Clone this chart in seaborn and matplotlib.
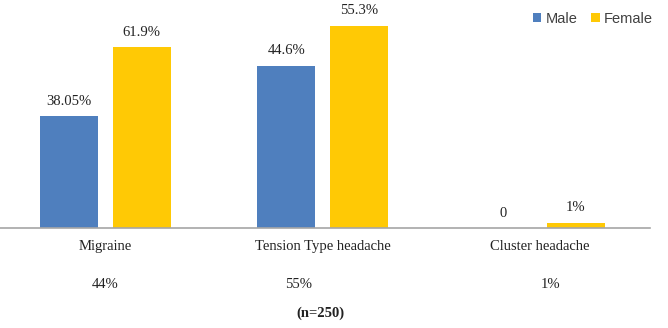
import numpy as np
import pandas as pd
import matplotlib
matplotlib.use("Agg")
import matplotlib.pyplot as plt
import seaborn as sns

# headache type, patients per sex (bar heights) and the percent labels shown
categories = ["Migraine", "Tension Type headache", "Cluster headache"]
male_counts = [42, 61, 0]
female_counts = [68, 76, 2]
male_labels = ["38.05%", "44.6%", "0"]
female_labels = ["61.9%", "55.3%", "1%"]
share_labels = ["44%", "55%", "1%"]
share_offsets = [0.0, -0.11, 0.05]
sample_note = "(n=250)"

df = pd.DataFrame({
    "type": categories * 2,
    "sex": ["Male"] * 3 + ["Female"] * 3,
    "count": male_counts + female_counts,
})

sns.set_theme(style="white")
plt.rcParams["font.family"] = ["Liberation Serif", "DejaVu Serif"]

fig = plt.figure(figsize=(6.68, 3.28), dpi=100)
ax = fig.add_axes([0.0, 0.3049, 650 / 668, 0.6951])

sns.barplot(data=df, x="type", y="count", hue="sex", order=categories,
            hue_order=["Male", "Female"],
            palette={"Male": "#4F7FBE", "Female": "#FFC905"},
            width=0.67, gap=0.21, saturation=1, linewidth=0, ax=ax)

for cont, labs in zip(ax.containers, [male_labels, female_labels]):
    ax.bar_label(cont, labels=labs, padding=6, fontsize=10.5, color="#222222")

ax.set_xlim(-0.486, 2.509)
ax.set_ylim(0, 85.7)
ax.set_xlabel("")
ax.set_ylabel("")
ax.set_yticks([])
ax.tick_params(axis="x", length=0, pad=9, labelsize=10.5, labelcolor="#222222")
for s in ["top", "left", "right"]:
    ax.spines[s].set_visible(False)
ax.spines["bottom"].set_color("#A6A6A6")
ax.spines["bottom"].set_linewidth(1.2)

trans = matplotlib.transforms.blended_transform_factory(ax.transData, fig.transFigure)
for i, (lab, off) in enumerate(zip(share_labels, share_offsets)):
    ax.text(i + off, 1 - 285 / 328, lab, transform=trans, ha="center",
            va="center", fontsize=10.5, color="#222222")
fig.text(320 / 668, 1 - 313 / 328, sample_note, ha="center", va="center",
         fontsize=10.5, fontweight="bold", color="#222222")

leg = ax.legend(loc="upper right", bbox_to_anchor=(0.995, 1.0),
                bbox_transform=fig.transFigure, ncol=2, frameon=False,
                handlelength=0.6, handleheight=0.6, handletextpad=0.3,
                columnspacing=0.9, borderaxespad=0.4,
                prop={"family": "Liberation Sans", "size": 10.5})
for t in leg.get_texts():
    t.set_color("#404040")

fig.savefig("out.png", dpi=100)
